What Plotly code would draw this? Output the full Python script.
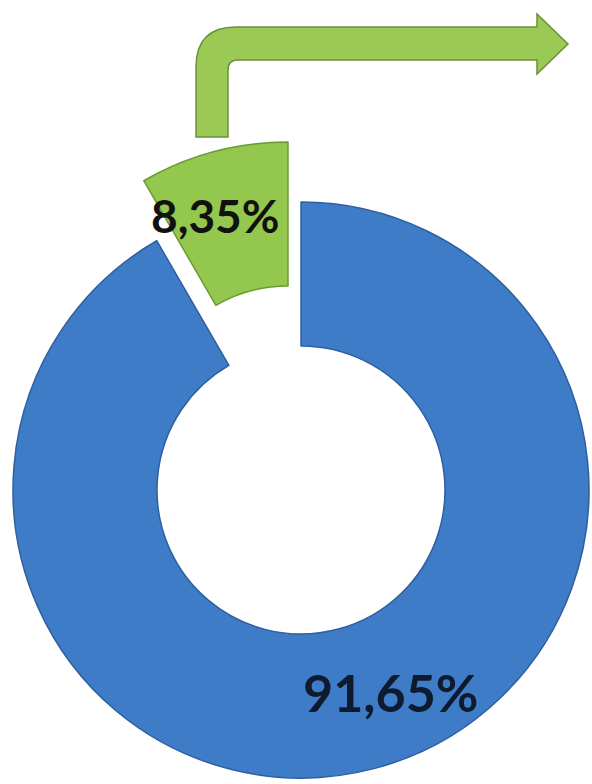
import plotly.graph_objects as go

# Share of each part (percent)
labels = ["A", "B"]
values = [91.65, 8.35]
colors = ["#3F7CC8", "#93C74D"]
edge_colors = ["#2E5F9E", "#6A9A33"]

W, H = 592, 784


def px(x, y):
    """Convert pixel position (from top-left) to paper coordinates."""
    return x / W, 1 - y / H


def fmt(v):
    return f"{v:.2f}".replace(".", ",") + "%"


fig = go.Figure()

# Main ring: the large slice, small slice left empty
bx0, by0 = px(13, 778)
bx1, by1 = px(589, 202)
fig.add_trace(go.Pie(
    labels=labels, values=values, sort=False, direction="clockwise",
    hole=0.5, textinfo="none", hoverinfo="label+percent",
    marker=dict(colors=[colors[0], "rgba(0,0,0,0)"],
                line=dict(color=[edge_colors[0], "rgba(0,0,0,0)"], width=1.5)),
    domain=dict(x=[bx0, bx1], y=[by0, by1]), showlegend=False,
))

# Exploded small slice, shifted out along its mid-angle
gx0, gy0 = px(0, 718)
gx1, gy1 = px(576, 142)
fig.add_trace(go.Pie(
    labels=labels, values=values, sort=False, direction="clockwise",
    hole=0.5, textinfo="none", hoverinfo="label+percent",
    marker=dict(colors=["rgba(0,0,0,0)", colors[1]],
                line=dict(color=["rgba(0,0,0,0)", edge_colors[1]], width=1.5)),
    domain=dict(x=[gx0, gx1], y=[gy0, gy1]), showlegend=False,
))

# Elbow arrow leading up and to the right from the small slice
pts = [
    ("M", 196, 137), ("L", 196, 67), ("Q", 196, 27, 236, 27), ("L", 537, 27),
    ("L", 537, 14), ("L", 568, 44), ("L", 537, 74), ("L", 537, 60),
    ("L", 238, 60), ("Q", 228, 60, 228, 70), ("L", 228, 137),
]
path = ""
for p in pts:
    cmd = p[0]
    coords = p[1:]
    s = []
    for i in range(0, len(coords), 2):
        xx, yy = px(coords[i], coords[i + 1])
        s.append(f"{xx:.5f},{yy:.5f}")
    path += cmd + " " + " ".join(s) + " "
path += "Z"
fig.add_shape(type="path", path=path, xref="paper", yref="paper",
              fillcolor="#9BC955", line=dict(color="#6B8F3A", width=1.5))

# Value labels
lx, ly = px(215, 216)
fig.add_annotation(x=lx, y=ly, xref="paper", yref="paper", text=fmt(values[1]),
                   showarrow=False, xanchor="center", yanchor="middle",
                   font=dict(family="Lato", size=46, color="#111111", weight="bold"))
lx, ly = px(390, 692)
fig.add_annotation(x=lx, y=ly, xref="paper", yref="paper", text=fmt(values[0]),
                   showarrow=False, xanchor="center", yanchor="middle",
                   font=dict(family="Lato", size=52, color="#0E1A2E", weight="bold"))

fig.update_layout(
    width=W, height=H, margin=dict(l=0, r=0, t=0, b=0),
    paper_bgcolor="white", plot_bgcolor="white", showlegend=False,
)

fig.write_html("out.html", config={"displayModeBar": False})
